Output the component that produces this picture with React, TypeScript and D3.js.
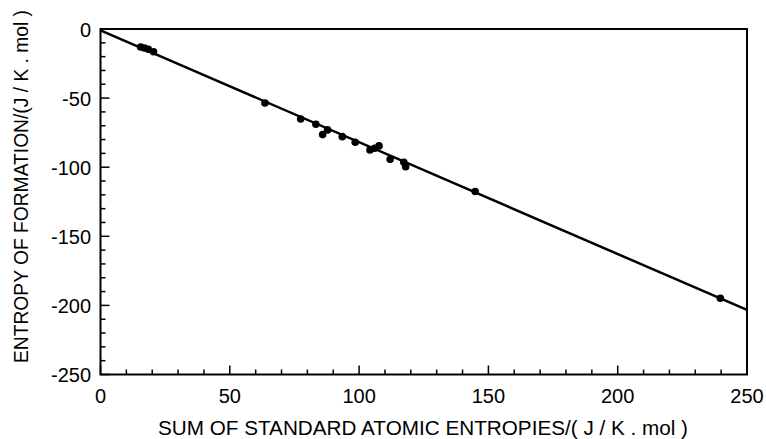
import React from "react";
import * as d3 from "d3";

const xValues = [15.5, 17, 18.5, 20.5, 63.6, 77.4, 83.3, 85.9, 87.8, 93.5, 98.5, 104.2, 106, 107.7, 112, 117.3, 118, 144.9, 239.7];
const yValues = [-13, -13.8, -14.6, -16.5, -53.5, -65.1, -68.9, -76.4, -73, -77.9, -82, -87.5, -86.3, -84.6, -94.2, -96.4, -99.6, -117.6, -194.8];
const fitX = [0, 250];
const fitY = [-1, -203.3];
const xTicks = [0, 50, 100, 150, 200, 250];
const yTicks = [0, -50, -100, -150, -200, -250];

const W = 766, H = 439;
const L = 100.5, R = 747, T = 29, B = 374.5;

export default function App() {
  const x = d3.scaleLinear().domain([0, 250]).range([L, R]);
  const y = d3.scaleLinear().domain([-250, 0]).range([B, T]);
  const minorX = d3.range(0, 251, 10);
  const minorY = d3.range(-250, 1, 10);
  const line = d3.line<number>().x((_, i) => x(fitX[i])).y((d) => y(d));
  const font = "Liberation Sans, Arial, Helvetica, sans-serif";
  return (
    <svg width={W} height={H} style={{ position: "absolute", left: 0, top: 0, background: "#fff" }}>
      <rect x={0} y={0} width={W} height={H} fill="#fff" />
      {minorX.map((v) => (
        <line key={"mx" + v} x1={x(v)} x2={x(v)} y1={B} y2={B - (v % 50 === 0 ? 9 : 5)} stroke="#000" strokeWidth={1.5} />
      ))}
      {minorY.map((v) => (
        <line key={"my" + v} x1={L} x2={L + (v % 50 === 0 ? 9 : 5)} y1={y(v)} y2={y(v)} stroke="#000" strokeWidth={1.5} />
      ))}
      <rect x={L} y={T} width={R - L} height={B - T} fill="none" stroke="#000" strokeWidth={2} />
      <path d={line(fitY) || ""} fill="none" stroke="#000" strokeWidth={2.5} />
      {xValues.map((v, i) => (
        <circle key={"p" + i} cx={x(v)} cy={y(yValues[i])} r={3.8} fill="#000" />
      ))}
      {xTicks.map((v) => (
        <text key={"xt" + v} x={x(v)} y={402.5} textAnchor="middle" fontFamily={font} fontSize={20}>{v}</text>
      ))}
      {yTicks.map((v) => (
        <text key={"yt" + v} x={91} y={y(v) + 7.5} textAnchor="end" fontFamily={font} fontSize={20}>{v}</text>
      ))}
      <text x={423} y={435} textAnchor="middle" fontFamily={font} fontSize={20} textLength={530} lengthAdjust="spacingAndGlyphs">SUM OF STANDARD ATOMIC ENTROPIES/( J / K . mol )</text>
      <text transform={`translate(28, 186.5) rotate(-90)`} textAnchor="middle" fontFamily={font} fontSize={20} textLength={353} lengthAdjust="spacingAndGlyphs">ENTROPY OF FORMATION/(J / K . mol )</text>
    </svg>
  );
}
